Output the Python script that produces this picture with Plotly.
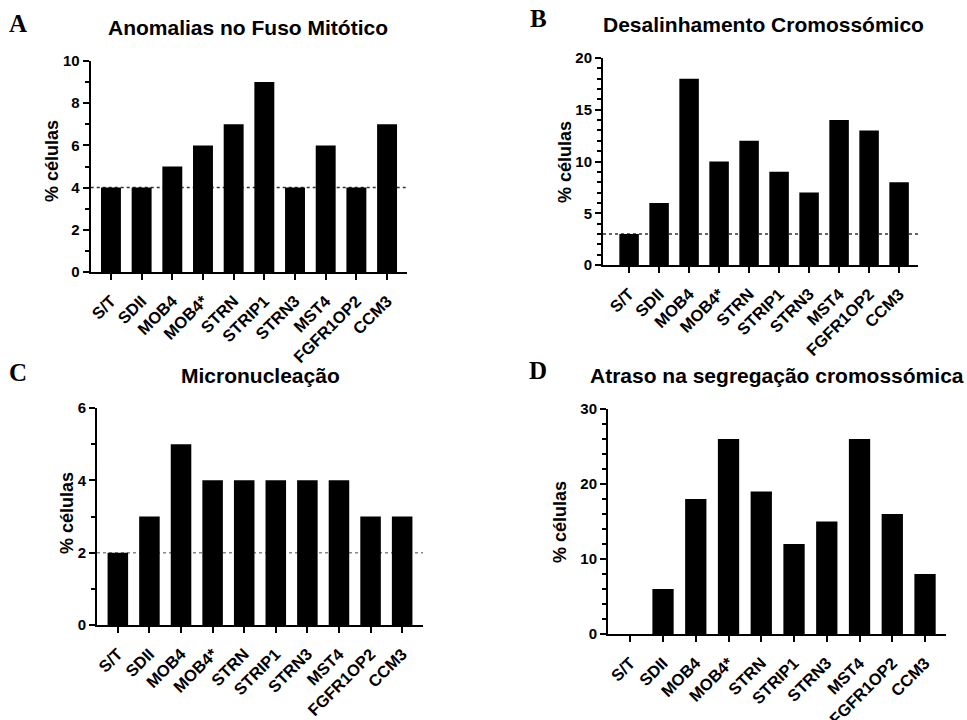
import plotly.graph_objects as go

categories = ["S/T", "SDII", "MOB4", "MOB4*", "STRN", "STRIP1", "STRN3", "MST4", "FGFR1OP2", "CCM3"]

anomalias_fuso = [4, 4, 5, 6, 7, 9, 4, 6, 4, 7]
desalinhamento = [3, 6, 18, 10, 12, 9, 7, 14, 13, 8]
micronucleacao = [2, 3, 5, 4, 4, 4, 4, 4, 3, 3]
atraso_segregacao = [0, 6, 18, 26, 19, 12, 15, 26, 16, 8]

titles = ["Anomalias no Fuso Mitótico", "Desalinhamento Cromossómico",
          "Micronucleação", "Atraso na segregação cromossómica"]
letters = ["A", "B", "C", "D"]
y_label = "% células"

W, H = 967, 720

def px_x(p):
    return p / W

def px_y(p):
    return 1 - p / H

panels = [
    dict(values=anomalias_fuso, xdom=(90.7, 407), ydom=(61, 272), xr=(-0.66, 9.65), yr=(0, 10),
         dtick=2, minor=1, baseline=True, dotcolor="#333333",
         title_xy=(248, 28), letter_xy=(18, 24), ytitle_xy=(52, 161)),
    dict(values=desalinhamento, xdom=(603, 918), ydom=(58, 265), xr=(-0.87, 9.63), yr=(0, 20),
         dtick=5, minor=1, baseline=True, dotcolor="#333333",
         title_xy=(763, 25), letter_xy=(538, 18), ytitle_xy=(565, 162)),
    dict(values=micronucleacao, xdom=(97, 423), ydom=(408, 625), xr=(-0.66, 9.66), yr=(0, 6),
         dtick=2, minor=1, baseline=True, dotcolor="#888888",
         title_xy=(260, 375), letter_xy=(18, 372), ytitle_xy=(67, 513)),
    dict(values=atraso_segregacao, xdom=(608, 946), ydom=(409, 634), xr=(-0.68, 9.64), yr=(0, 30),
         dtick=10, minor=2, baseline=False, dotcolor="#333333",
         title_xy=(777, 375), letter_xy=(538, 371), ytitle_xy=(560, 522)),
]

font_family = "Liberation Sans, Arial, sans-serif"
fig = go.Figure()
annotations = []
shapes = []

for i, p in enumerate(panels):
    n = "" if i == 0 else str(i + 1)
    xa = "x" + n
    ya = "y" + n
    fig.add_trace(go.Bar(
        x=categories, y=p["values"], width=0.65,
        marker=dict(color="black", line=dict(width=0)),
        xaxis=xa, yaxis=ya, showlegend=False,
    ))
    fig.update_layout(**{
        "xaxis" + n: dict(
            domain=[px_x(p["xdom"][0]), px_x(p["xdom"][1])],
            anchor=ya, range=list(p["xr"]), type="category", automargin=False,
            showline=True, linecolor="black", linewidth=2,
            ticks="outside", ticklen=6, tickwidth=1.5, tickcolor="black",
            tickangle=-45, ticklabelstandoff=5, showgrid=False, zeroline=False,
            tickfont=dict(family=font_family, size=16.5, color="black", weight="bold"),
        ),
        "yaxis" + n: dict(
            domain=[px_y(p["ydom"][1]), px_y(p["ydom"][0])],
            anchor=xa, range=list(p["yr"]), dtick=p["dtick"], tick0=0, automargin=False,
            showline=True, linecolor="black", linewidth=2,
            ticks="outside", ticklen=6, tickwidth=1.5, tickcolor="black",
            minor=dict(dtick=p["minor"], tick0=0, ticks="outside", ticklen=4,
                       tickwidth=1.5, tickcolor="black", showgrid=False),
            showgrid=False, zeroline=False,
            tickfont=dict(family=font_family, size=15, color="black", weight="bold"),
        ),
    })
    if p["baseline"]:
        shapes.append(dict(
            type="line", xref=xa + " domain", yref=ya, x0=0, x1=1,
            y0=p["values"][0], y1=p["values"][0],
            line=dict(color=p["dotcolor"], width=1.5, dash="dot"), layer="below",
        ))
    annotations.append(dict(
        text=titles[i], xref="paper", yref="paper",
        x=px_x(p["title_xy"][0]), y=px_y(p["title_xy"][1]),
        xanchor="center", yanchor="middle", showarrow=False,
        font=dict(family=font_family, size=21, color="black", weight="bold"),
    ))
    annotations.append(dict(
        text=letters[i], xref="paper", yref="paper",
        x=px_x(p["letter_xy"][0]), y=px_y(p["letter_xy"][1]),
        xanchor="center", yanchor="middle", showarrow=False,
        font=dict(family="Liberation Serif, Times New Roman, serif", size=25, color="black", weight="bold"),
    ))
    annotations.append(dict(
        text=y_label, xref="paper", yref="paper", textangle=-90,
        x=px_x(p["ytitle_xy"][0]), y=px_y(p["ytitle_xy"][1]),
        xanchor="center", yanchor="middle", showarrow=False,
        font=dict(family=font_family, size=18, color="black", weight="bold"),
    ))

fig.update_layout(
    template="none",
    width=W, height=H, margin=dict(l=0, r=0, t=0, b=0, autoexpand=False),
    paper_bgcolor="white", plot_bgcolor="white",
    annotations=annotations, shapes=shapes,
)

fig.write_html("out.html")
